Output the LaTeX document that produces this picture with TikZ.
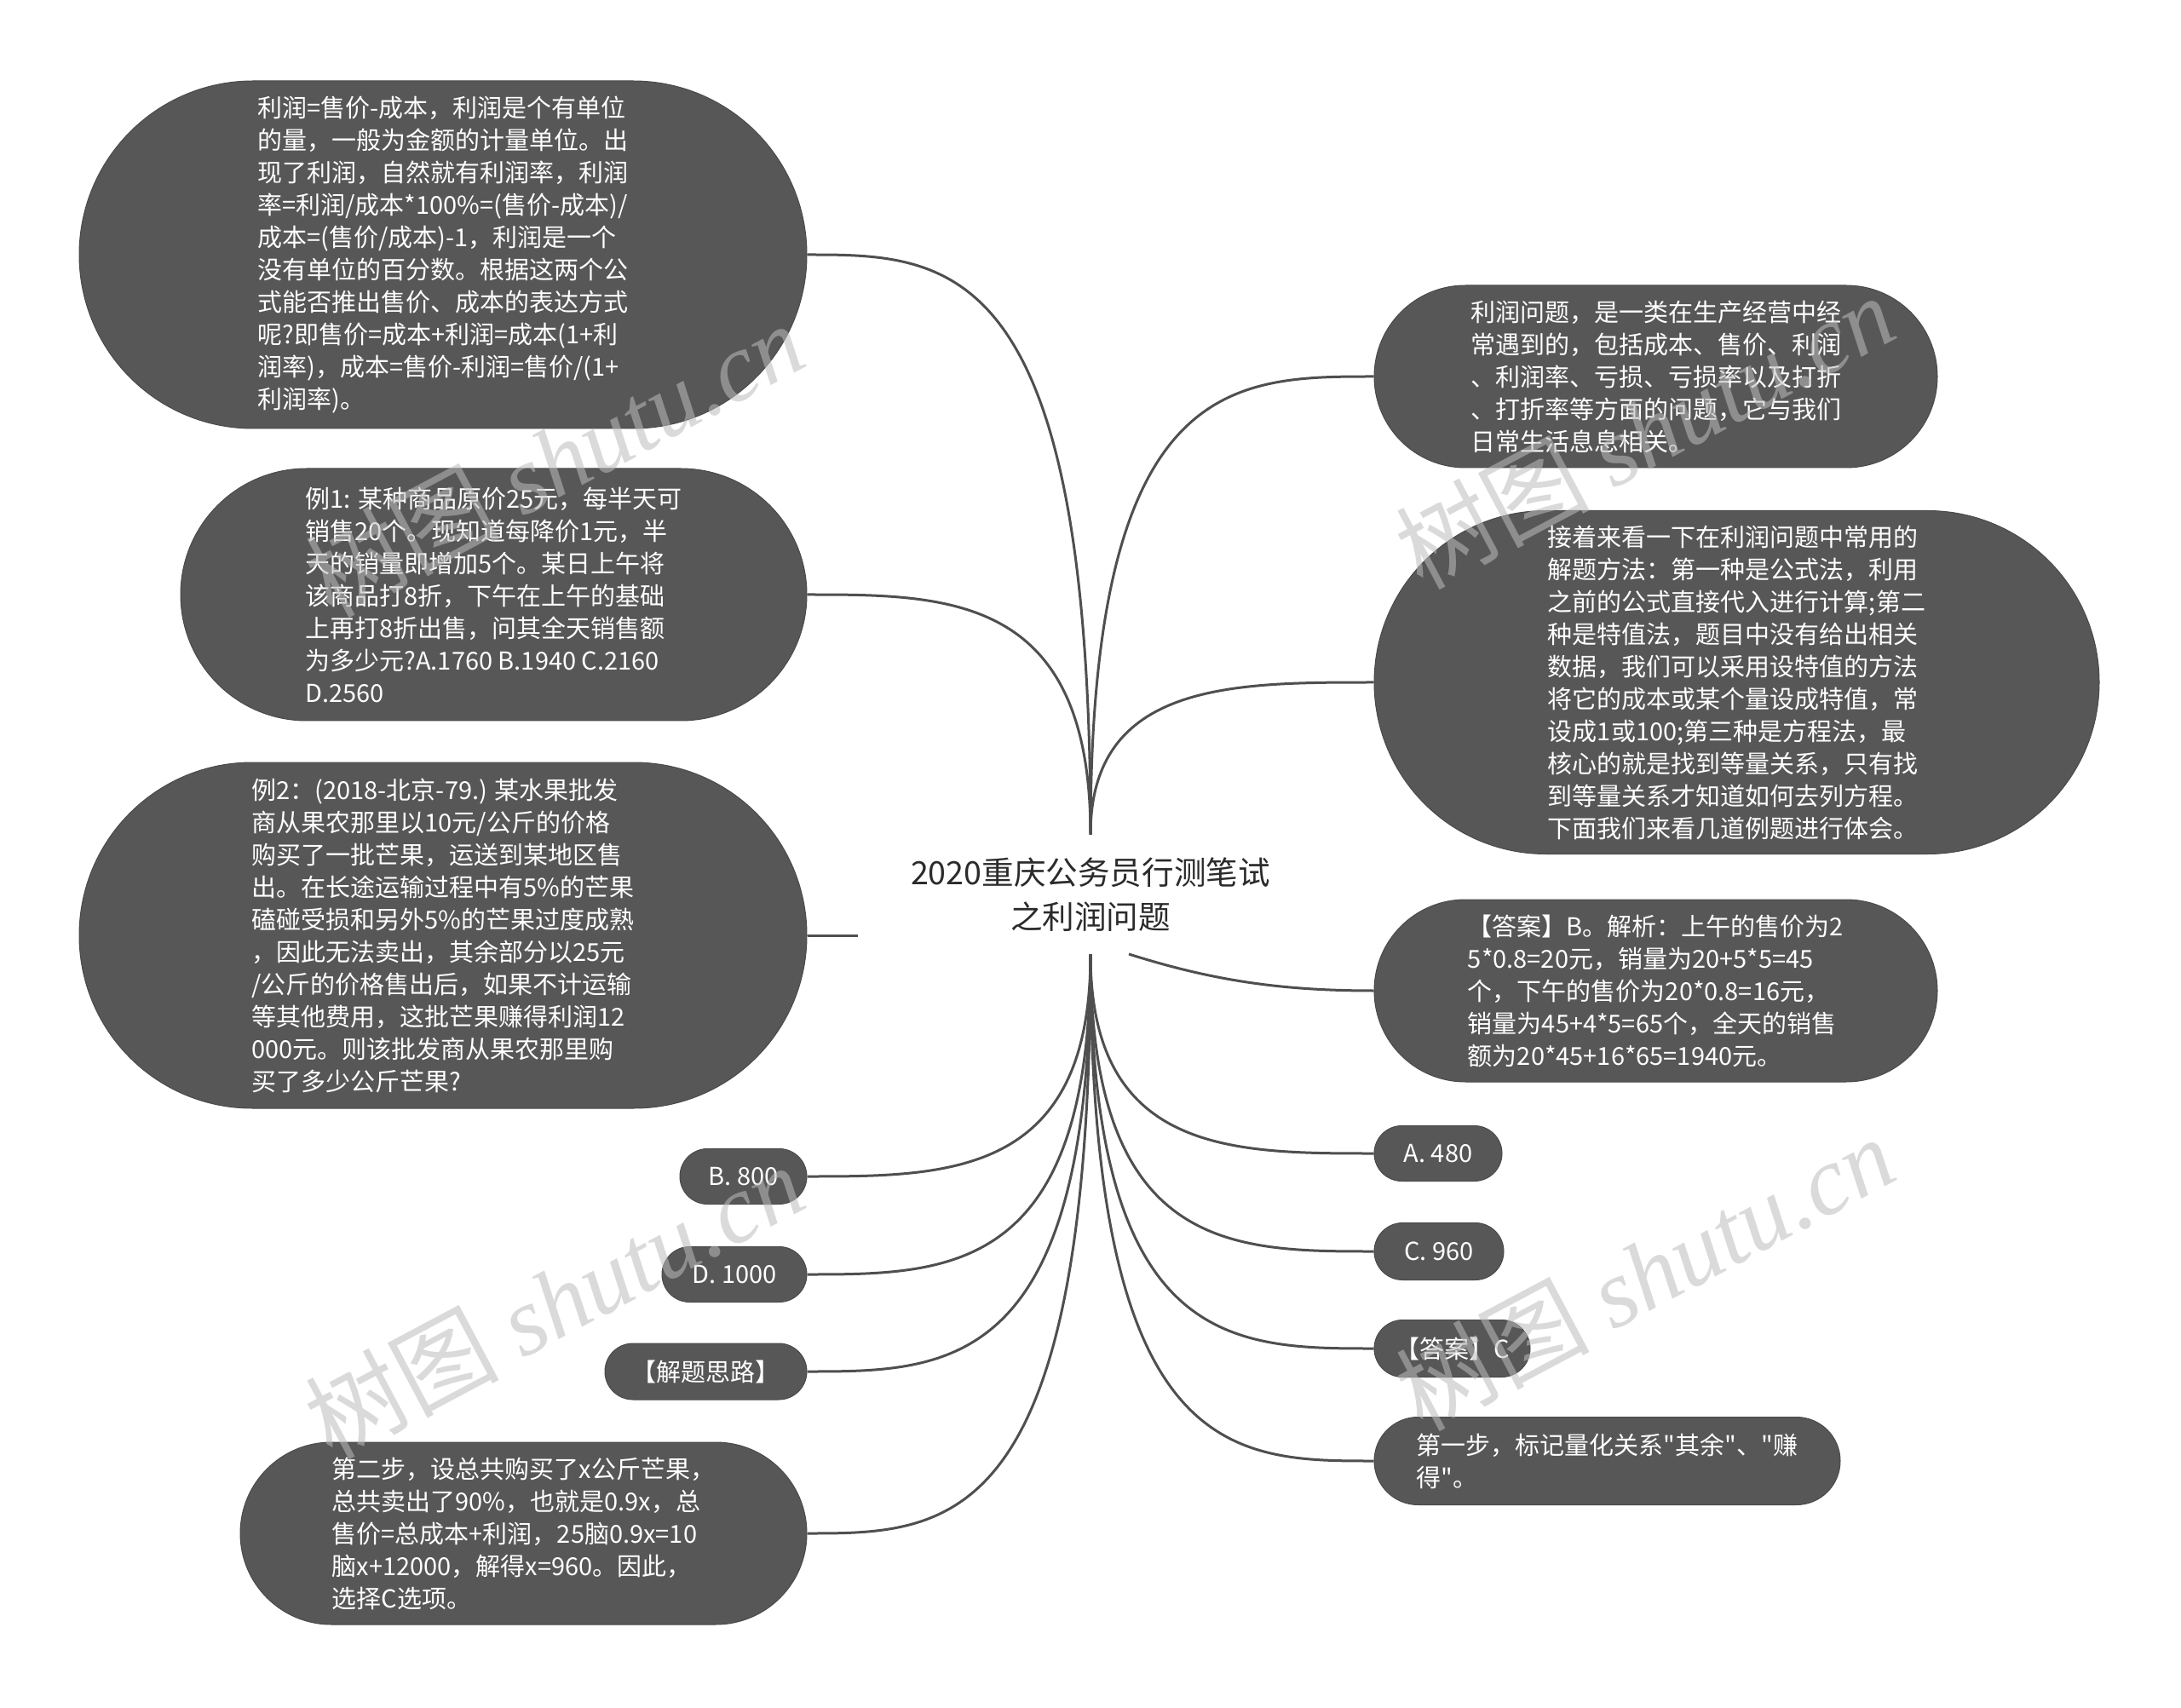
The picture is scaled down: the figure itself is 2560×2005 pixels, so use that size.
\documentclass[tikz,border=0pt]{standalone}
\usepackage{fontspec}
\setmainfont{Noto Sans CJK SC}[Ligatures=TeXOff]
\newfontfamily\wmserif{Liberation Serif}
\usetikzlibrary{shapes.misc,calc}
\definecolor{boxgray}{HTML}{575757}
\definecolor{boxedge}{HTML}{4A4A4A}
\definecolor{linkgray}{HTML}{4F4F4F}
\definecolor{roottext}{HTML}{2B2B2B}
\definecolor{wmgray}{HTML}{BCBCBC}
\newcommand\bodyfont{\fontsize{14.5}{19}\selectfont}
\newcommand\rootfont{\fontsize{18.8}{26}\selectfont}
\newcommand\wmtext{树图 {\wmserif\itshape shutu.cn}}
\begin{document}
\begin{tikzpicture}[x=0.5pt,y=-0.5pt,
  box/.style={rounded rectangle, fill=boxgray, draw=boxedge, line width=0.5pt,
    text=white, align=left, inner sep=0pt, font=\bodyfont},
  link/.style={draw=linkgray, line width=1.5pt},
  wm/.style={text=wmgray, fill opacity=0.55, text opacity=0.55,
    font=\fontsize{57}{60}\selectfont, inner sep=0pt, rotate=28}]
\fill[white] (0,0) rectangle (2560,2005);
\useasboundingbox (0,0) rectangle (2560,2005);

% root
\node[font=\rootfont, text=roottext, align=center, minimum width=273pt,
  minimum height=70pt, inner sep=0pt] (root) at (1280,1050)
  {2020重庆公务员行测笔试\\之利润问题};
\coordinate (rs2) at (1325,1120);

% left side
\node[box, minimum width=427pt, minimum height=204pt] (n1) at (520,299)
{利润=售价-成本，利润是个有单位\\
的量，一般为金额的计量单位。出\\
现了利润，自然就有利润率，利润\\
率=利润/成本*100\%=(售价-成本)/\\
成本=(售价/成本)-1，利润是一个\\
没有单位的百分数。根据这两个公\\
式能否推出售价、成本的表达方式\\
呢?即售价=成本+利润=成本(1+利\\
润率)，成本=售价-利润=售价/(1+\\
利润率)。};

\node[box, minimum width=367.5pt, minimum height=148pt] (n2) at (579.5,698)
{例1: 某种商品原价25元，每半天可\\
销售20个。现知道每降价1元，半\\
天的销量即增加5个。某日上午将\\
该商品打8折，下午在上午的基础\\
上再打8折出售，问其全天销售额\\
为多少元?A.1760 B.1940 C.2160\\
D.2560};

\node[box, minimum width=427pt, minimum height=203pt] (n3) at (520,1098)
{例2：(2018-北京-79.) 某水果批发\\
商从果农那里以10元/公斤的价格\\
购买了一批芒果，运送到某地区售\\
出。在长途运输过程中有5\%的芒果\\
磕碰受损和另外5\%的芒果过度成熟\\
，因此无法卖出，其余部分以25元\\
/公斤的价格售出后，如果不计运输\\
等其他费用，这批芒果赚得利润12\\
000元。则该批发商从果农那里购\\
买了多少公斤芒果?};

\node[box, minimum width=74.5pt, minimum height=32.5pt] (b800) at (872.5,1381) {B. 800};
\node[box, minimum width=85pt, minimum height=32.5pt] (d1000) at (862,1496) {D. 1000};
\node[box, minimum width=118.5pt, minimum height=33pt] (jieti) at (828.5,1610) {【解题思路】};

\node[box, minimum width=332.5pt, minimum height=107pt] (step2) at (614.5,1800)
{第二步，设总共购买了x公斤芒果，\\
总共卖出了90\%，也就是0.9x，总\\
售价=总成本+利润，25脑0.9x=10\\
脑x+12000，解得x=960。因此，\\
选择C选项。};

% right side
\node[box, minimum width=330.5pt, minimum height=107pt] (r1) at (1943.5,442)
{利润问题，是一类在生产经营中经\\
常遇到的，包括成本、售价、利润\\
、利润率、亏损、亏损率以及打折\\
、打折率等方面的问题，它与我们\\
日常生活息息相关。};

\node[box, minimum width=425.5pt, minimum height=201.5pt] (r2) at (2038.5,801)
{接着来看一下在利润问题中常用的\\
解题方法：第一种是公式法，利用\\
之前的公式直接代入进行计算;第二\\
种是特值法，题目中没有给出相关\\
数据，我们可以采用设特值的方法\\
将它的成本或某个量设成特值，常\\
设成1或100;第三种是方程法，最\\
核心的就是找到等量关系，只有找\\
到等量关系才知道如何去列方程。\\
下面我们来看几道例题进行体会。};

\node[box, minimum width=330.5pt, minimum height=107pt] (r3) at (1943.5,1163)
{【答案】B。解析：上午的售价为2\\
5*0.8=20元，销量为20+5*5=45\\
个，下午的售价为20*0.8=16元，\\
销量为45+4*5=65个，全天的销售\\
额为20*45+16*65=1940元。};

\node[box, minimum width=75pt, minimum height=32.5pt] (a480) at (1688,1354) {A. 480};
\node[box, minimum width=76pt, minimum height=33.5pt] (c960) at (1689,1469) {C. 960};
\node[box, minimum width=91.5pt, minimum height=33.5pt] (ansc) at (1704.5,1583) {【答案】C};
\node[box, minimum width=273.5pt, minimum height=51.5pt] (step1) at (1886.5,1715)
{第一步，标记量化关系"其余"、"赚\\
得"。};

% connectors: upper
\foreach \t/\a in {n1/east, n2/east, r1/west, r2/west}{
  \draw[link] (root.north) .. controls (root.north |- \t.\a)
    and ($(root.north |- \t.\a)!0.5!(\t.\a)$) .. (\t.\a);
}
% connectors: lower
\foreach \t/\a in {b800/east, d1000/east, jieti/east, step2/east,
                   a480/west, c960/west, ansc/west, step1/west}{
  \draw[link] (root.south) .. controls (root.south |- \t.\a)
    and ($(root.south |- \t.\a)!0.5!(\t.\a)$) .. (\t.\a);
}
\draw[link] (rs2) .. controls (1420,1150) and (1500,1163) .. (r3.west);
\draw[link] (n3.east) -- (n3.east -| root.west);

% watermarks
\node[wm] (wm1) at (650,539) {\wmtext};
\node[wm] (wm2) at (1930,506) {\wmtext};
\node[wm] (wm3) at (650,1527) {\wmtext};
\node[wm] (wm4) at (1930,1494) {\wmtext};
\end{tikzpicture}
\end{document}
